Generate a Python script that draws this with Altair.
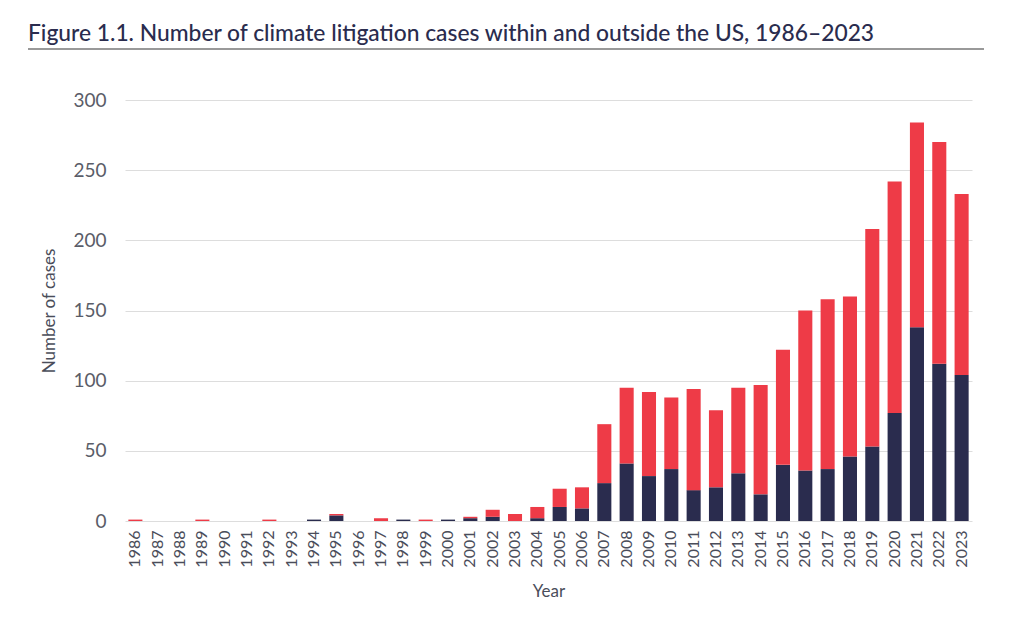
import altair as alt
import pandas as pd

years = [str(y) for y in range(1986, 2024)]
outside_us = [0, 0, 0, 0, 0, 0, 0, 0, 1, 4, 0, 0, 1, 0, 1, 2, 3, 0, 2, 10,
              9, 27, 41, 32, 37, 22, 24, 34, 19, 40, 36, 37, 46, 53, 77, 138, 112, 104]
within_us = [1, 0, 0, 1, 0, 0, 1, 0, 0, 1, 0, 2, 0, 1, 0, 1, 5, 5, 8, 13,
             15, 42, 54, 60, 51, 72, 55, 61, 78, 82, 114, 121, 114, 155, 165, 146, 158, 129]
series_names = ["Outside the US", "Within the US"]
series_colors = ["#2A2C4E", "#EE3B47"]
title_text = "Figure 1.1. Number of climate litigation cases within and outside the US, 1986\u20132023"

rows = []
for i, y in enumerate(years):
    rows.append({"Year": y, "Series": series_names[0], "Cases": outside_us[i], "ord": 0})
    rows.append({"Year": y, "Series": series_names[1], "Cases": within_us[i], "ord": 1})
df = pd.DataFrame(rows)

FONT = "Lato"

bars = alt.Chart(df).mark_bar().encode(
    x=alt.X("Year:N", sort=years,
            scale=alt.Scale(paddingInner=0.37, paddingOuter=0.15),
            axis=alt.Axis(title="Year", labelAngle=270, labelFontSize=16, labelColor="#4a4d5a",
                          labelFont=FONT, titleFont=FONT, titleFontSize=17, titleFontWeight="normal",
                          titleColor="#4a4d5a", titlePadding=16, ticks=False, domain=False,
                          labelPadding=9)),
    y=alt.Y("Cases:Q", stack="zero",
            scale=alt.Scale(domain=[0, 300], nice=False),
            axis=alt.Axis(title="Number of cases", values=[0, 50, 100, 150, 200, 250, 300],
                          labelFontSize=19, labelColor="#5a5d68", labelFont=FONT,
                          titleFont=FONT, titleFontSize=17, titleFontWeight="normal",
                          titleColor="#4a4d5a", titlePadding=14, ticks=False, domain=False,
                          labelPadding=19, gridColor="#dddddd", gridWidth=1)),
    color=alt.Color("Series:N", scale=alt.Scale(domain=series_names, range=series_colors),
                    legend=None),
    order=alt.Order("ord:Q", sort="ascending"),
)

title_mark = alt.Chart(pd.DataFrame({"t": [title_text]})).mark_text(
    align="left", baseline="alphabetic", font=FONT, fontSize=22.8, fontWeight=500,
    color="#2A2C4E"
).encode(text="t:N", x=alt.value(-97), y=alt.value(-59))

underline = alt.Chart(pd.DataFrame({"a": [0]})).mark_rule(
    color="#999999", strokeWidth=2
).encode(x=alt.value(-97), x2=alt.value(859), y=alt.value(-51))

chart = alt.layer(bars, title_mark, underline).properties(
    width=847, height=421,
    background="white",
    autosize=alt.AutoSizeParams(type="none"),
    padding={"left": 117, "top": 92, "right": 40, "bottom": 80},
).configure_view(strokeWidth=0, stroke="transparent")

chart.save("out.html", embed_options={"renderer": "svg", "actions": False})
